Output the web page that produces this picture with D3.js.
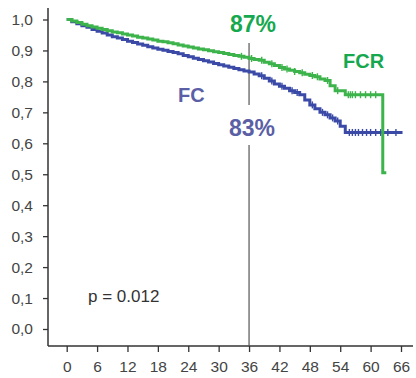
<!DOCTYPE html>
<html>
<head>
<meta charset="utf-8">
<script src="https://cdn.jsdelivr.net/npm/d3@7"></script>
<style>
  html, body { margin: 0; padding: 0; background: #fff; }
  svg { display: block; font-family: "Liberation Sans", Arial, sans-serif; }
</style>
</head>
<body>
<svg id="chart" width="416" height="378"></svg>
<script>
// Kaplan-Meier estimates (months, survival proportion)
const fcrTimes = [0,1,2,3,4,5,6,7,8,9,10,11,12,13,14,15,16,17,18,19,20,21,22,23,24,25,26,27,28,29,30,31,32,33,34,35,36,37,38,39,40,41,42,43,44,45,46,47,48,49,50,51,52,53,55,62.4,63.1];
const fcrSurv  = [1.0,0.995,0.99,0.985,0.98,0.976,0.972,0.968,0.964,0.96,0.957,0.953,0.95,0.947,0.943,0.94,0.937,0.934,0.93,0.928,0.925,0.922,0.918,0.914,0.911,0.908,0.905,0.902,0.899,0.896,0.893,0.89,0.887,0.884,0.881,0.878,0.874,0.871,0.868,0.862,0.857,0.851,0.845,0.84,0.836,0.832,0.828,0.823,0.819,0.815,0.808,0.803,0.786,0.77,0.757,0.505,0.505];

const fcTimes = [0,1,2,3,4,5,6,7,8,9,10,11,12,13,14,15,16,17,18,19,20,21,22,23,24,25,26,27,28,29,30,31,32,33,34,35,36,37,38,39,40,41,42,43,44,45,46,47,48,49,50,51,52,53,54,55,66.3];
const fcSurv  = [1.0,0.993,0.986,0.98,0.975,0.968,0.962,0.956,0.95,0.944,0.94,0.935,0.93,0.926,0.921,0.917,0.912,0.908,0.904,0.901,0.897,0.893,0.889,0.884,0.88,0.875,0.871,0.867,0.863,0.858,0.854,0.85,0.846,0.842,0.838,0.834,0.83,0.824,0.818,0.81,0.801,0.792,0.784,0.778,0.77,0.764,0.757,0.74,0.724,0.712,0.7,0.692,0.682,0.672,0.655,0.635,0.635];

// censoring marks (months)
const fcrCensor = [34.5,36.5,38.5,40.5,42.5,43.5,45,46.5,48.5,49.5,51.5,53.5,55.6,56,56.4,57,58,59,60,61];
const fcCensor  = [38.5,40.5,42.5,44.5,45.5,48.5,50.5,51.5,52.5,53.5,55.8,56.4,57,57.6,58.4,59.2,60,61,62,63.4,65];

const xTicks = [0,6,12,18,24,30,36,42,48,54,60,66];
const yTicks = [0,0.1,0.2,0.3,0.4,0.5,0.6,0.7,0.8,0.9,1.0];
const yTickLabels = ["0,0","0,1","0,2","0,3","0,4","0,5","0,6","0,7","0,8","0,9","1,0"];

const landmark = 36;
const fcrLandmarkLabel = "87%";
const fcLandmarkLabel = "83%";
const pValueText = "p = 0.012";

const green = "#3cb44b", blue = "#3a4aa6";
const greenText = "#16a84e", blueText = "#5b5fa6";

const svg = d3.select("#chart");
const x = d3.scaleLinear().domain([0, 66]).range([66.7, 401]);
const y = d3.scaleLinear().domain([0, 1]).range([329, 19.5]);

// axis lines
svg.append("line").attr("x1", 48).attr("x2", 48).attr("y1", 8).attr("y2", 346)
  .attr("stroke", "#333").attr("stroke-width", 1.5);
svg.append("line").attr("x1", 48).attr("x2", 413).attr("y1", 346).attr("y2", 346)
  .attr("stroke", "#333").attr("stroke-width", 1.5);

const yAxis = svg.append("g").attr("transform", "translate(48,0)")
  .call(d3.axisLeft(y).tickValues(yTicks).tickSize(5).tickPadding(10)
    .tickFormat((d, i) => yTickLabels[i]));
yAxis.select(".domain").remove();
yAxis.selectAll("line").attr("stroke", "#333").attr("stroke-width", 1.3);
yAxis.selectAll("text").attr("fill", "#444").style("font-size", "15.5px")
  .style("font-family", "Liberation Sans, Arial, sans-serif");

const xAxis = svg.append("g").attr("transform", "translate(0,346)")
  .call(d3.axisBottom(x).tickValues(xTicks).tickSize(6).tickPadding(9));
xAxis.select(".domain").remove();
xAxis.selectAll("line").attr("stroke", "#333").attr("stroke-width", 1.3);
xAxis.selectAll("text").attr("fill", "#444").style("font-size", "15.5px")
  .style("font-family", "Liberation Sans, Arial, sans-serif");

// landmark line at 36 months, broken around the FC label
svg.append("line").attr("x1", x(landmark)).attr("x2", x(landmark)).attr("y1", 43).attr("y2", 105)
  .attr("stroke", "#555").attr("stroke-width", 1.2);
svg.append("line").attr("x1", x(landmark)).attr("x2", x(landmark)).attr("y1", 145).attr("y2", 346)
  .attr("stroke", "#555").attr("stroke-width", 1.2);

const line = d3.line().curve(d3.curveStepAfter).x(d => x(d[0])).y(d => y(d[1]));
function stepValue(times, surv, t) {
  const i = d3.bisectRight(times, t) - 1;
  return surv[Math.max(0, i)];
}

function drawArm(times, surv, censor, color) {
  const pts = times.map((t, i) => [t, surv[i]]);
  svg.append("path").datum(pts).attr("d", line)
    .attr("fill", "none").attr("stroke", color).attr("stroke-width", 3)
    .attr("stroke-linejoin", "miter");
  svg.append("g").selectAll("line").data(censor).join("line")
    .attr("x1", d => x(d)).attr("x2", d => x(d))
    .attr("y1", d => y(stepValue(times, surv, d)) - 3.5)
    .attr("y2", d => y(stepValue(times, surv, d)) + 3.5)
    .attr("stroke", color).attr("stroke-width", 1.4);
}
drawArm(fcTimes, fcSurv, fcCensor, blue);
drawArm(fcrTimes, fcrSurv, fcrCensor, green);

// labels
svg.append("text").attr("x", x(landmark) + 4).attr("y", 32).attr("text-anchor", "middle")
  .attr("fill", greenText).style("font-weight", "bold").style("font-size", "23px").text(fcrLandmarkLabel);
svg.append("text").attr("x", x(landmark) + 3).attr("y", 135.5).attr("text-anchor", "middle")
  .attr("fill", blueText).style("font-weight", "bold").style("font-size", "23px").text(fcLandmarkLabel);
svg.append("text").attr("x", 343).attr("y", 67.5)
  .attr("fill", greenText).style("font-weight", "bold").style("font-size", "20px").text("FCR");
svg.append("text").attr("x", 178).attr("y", 102)
  .attr("fill", blueText).style("font-weight", "bold").style("font-size", "20px").text("FC");
svg.append("text").attr("x", 88).attr("y", 302)
  .attr("fill", "#333").style("font-size", "17px").text(pValueText);
</script>
</body>
</html>
